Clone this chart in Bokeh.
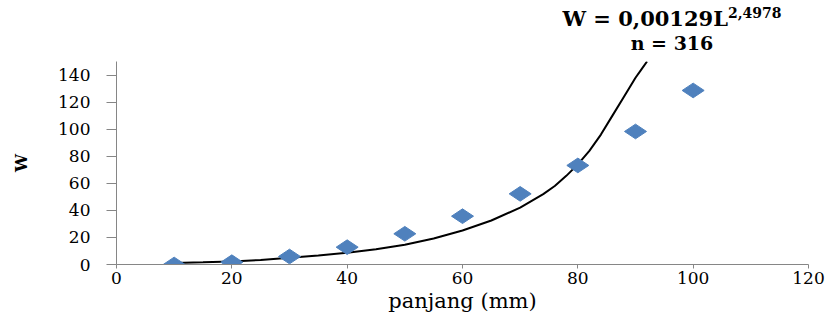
import numpy as np
from bokeh.plotting import figure
from bokeh.models import Range1d, FixedTicker, Div
from bokeh.layouts import column
from bokeh.embed import file_html
from bokeh.resources import INLINE

# data
panjang = [10, 20, 30, 40, 50, 60, 70, 80, 90, 100]
berat = [0, 1.7, 5.9, 12.8, 22.7, 35.7, 52.2, 73.2, 98.3, 128.6]

tren_x = [10, 15, 20, 25, 30, 35, 40, 45, 50, 55, 60, 65, 70, 74, 76, 78, 80, 82, 84, 86, 88, 90, 91, 92]
tren_y = [1.2, 1.6, 2.2, 3.4, 5.0, 6.7, 8.7, 11.3, 14.6, 19.2, 25.1, 32.5, 42, 52, 58, 65.5, 74, 84, 96, 110, 124, 138, 144, 150]

x_ticks = [0, 20, 40, 60, 80, 100, 120]
y_ticks = [0, 20, 40, 60, 80, 100, 120, 140]

eq_main = "W = 0,00129L"
eq_sup = "2,4978"
eq_n = "n = 316"

FONT = "DejaVu Serif"
AXIS_COLOR = "#868686"

header = Div(
    text=(
        '<div style="position:relative;width:830px;height:54px;'
        "font-family:'DejaVu Serif';font-weight:bold;color:black;\">"
        '<div style="position:absolute;left:472px;top:8px;width:400px;text-align:center;'
        'font-size:21px;line-height:21px;white-space:nowrap;">'
        f'{eq_main}<span style="position:relative;top:-8px;font-size:14px;">{eq_sup}</span></div>'
        '<div style="position:absolute;left:472px;top:34px;width:400px;text-align:center;'
        f'font-size:19px;line-height:19px;white-space:nowrap;">{eq_n}</div>'
        '</div>'
    ),
    width=830, height=54, margin=0,
)

p = figure(frame_width=692, frame_height=203, output_backend="svg", toolbar_location=None,
           x_range=Range1d(0, 120), y_range=Range1d(0, 150),
           min_border_left=116, min_border_right=22, min_border_top=7, min_border_bottom=20,
           margin=0)
p.outline_line_color = None
p.grid.visible = False
p.background_fill_color = "white"
p.border_fill_color = "white"

p.line(tren_x, tren_y, line_color="black", line_width=2)
p.scatter(panjang, berat, marker="diamond", angle=np.pi / 2, size=22,
          fill_color="#4F81BD", line_color="#4F81BD")

for ax in (p.xaxis[0], p.yaxis[0]):
    ax.axis_line_color = AXIS_COLOR
    ax.major_tick_line_color = AXIS_COLOR
    ax.minor_tick_line_color = None
    ax.major_tick_in = 0
    ax.major_label_text_font = FONT
    ax.major_label_text_font_size = "17px"
    ax.major_label_text_color = "black"
    ax.axis_label_text_font = FONT
    ax.axis_label_text_font_style = "normal"
    ax.axis_label_text_color = "black"

p.xaxis.ticker = FixedTicker(ticks=x_ticks)
p.yaxis.ticker = FixedTicker(ticks=y_ticks)
p.xaxis.major_tick_out = 4
p.xaxis.major_label_standoff = 3
p.xaxis.axis_label = "panjang (mm)"
p.xaxis.axis_label_text_font_size = "21px"
p.xaxis.axis_label_standoff = 2

p.yaxis.major_tick_out = 10
p.yaxis.major_label_standoff = 16
p.yaxis.axis_label = "W"
p.yaxis.axis_label_text_font_size = "16px"
p.yaxis.axis_label_text_font_style = "bold"
p.yaxis.axis_label_standoff = 24

layout = column(header, p, spacing=0)
open("out.html", "w").write(file_html(layout, INLINE))
